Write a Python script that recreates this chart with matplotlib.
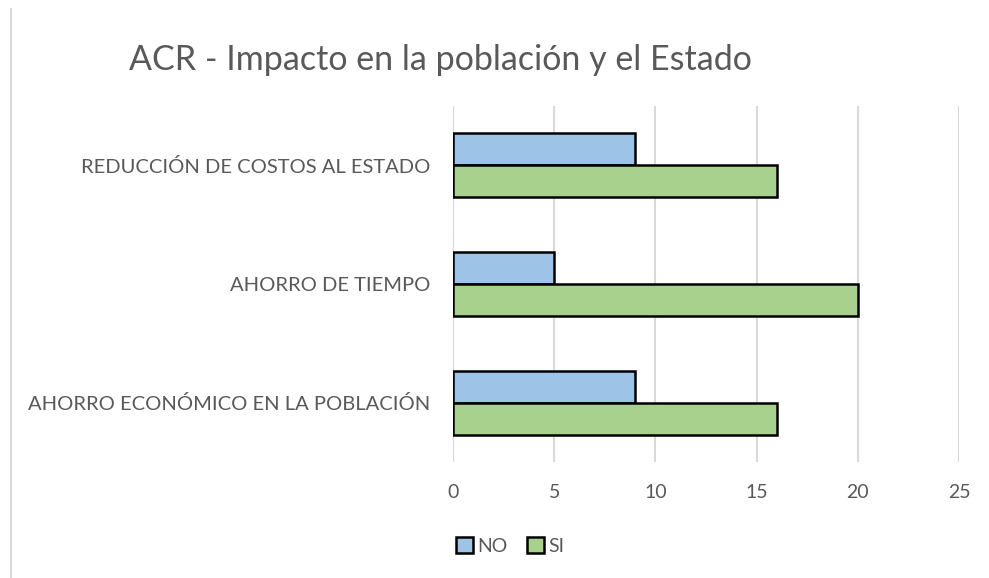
import numpy as np
import matplotlib.pyplot as plt
from matplotlib.lines import Line2D

# datos
categorias = ["AHORRO ECONÓMICO EN LA POBLACIÓN", "AHORRO DE TIEMPO", "REDUCCIÓN DE COSTOS AL ESTADO"]
valores_no = [9, 5, 9]
valores_si = [16, 20, 16]
series = ["NO", "SI"]

plt.rcParams['font.family'] = ['Lato', 'DejaVu Sans']
gris = '#595959'

fig = plt.figure(figsize=(9.89, 5.78), dpi=100)
ax = fig.add_axes([0.458, 0.2007, 0.5117, 0.6159])

y = np.arange(len(categorias))
h = 0.27
ax.barh(y + h / 2, valores_no, height=h, color='#9dc3e6', edgecolor='black', linewidth=1.8, label=series[0], zorder=3)
ax.barh(y - h / 2, valores_si, height=h, color='#a9d18e', edgecolor='black', linewidth=1.8, label=series[1], zorder=3)

ax.set_xlim(0, 25)
ax.set_ylim(-0.5, 2.5)
ax.set_xticks([0, 5, 10, 15, 20, 25])
ax.set_yticks(y)
ax.set_yticklabels(categorias)
ax.grid(axis='x', color='#d9d9d9', linewidth=1.5, zorder=0)
for s in ax.spines.values():
    s.set_visible(False)
ax.tick_params(length=0, colors=gris, labelsize=14.5)
ax.tick_params(axis='x', labelsize=14, pad=16)
ax.tick_params(axis='y', pad=16)

fig.text(0.445, 0.897, "ACR - Impacto en la población y el Estado", ha='center', va='center',
         fontsize=24.5, color=gris)

ax.legend(loc='center', bbox_to_anchor=(0.5155, 0.055), bbox_transform=fig.transFigure,
          ncol=2, frameon=False, fontsize=14, labelcolor=gris, handlelength=0.9, handleheight=0.9,
          handletextpad=0.2, columnspacing=1.0)

# borde izquierdo del gráfico
fig.add_artist(Line2D([0.0115, 0.0115], [0, 0.985], transform=fig.transFigure, color='#d9d9d9', linewidth=1.5))

plt.savefig("out.png", dpi=100)
